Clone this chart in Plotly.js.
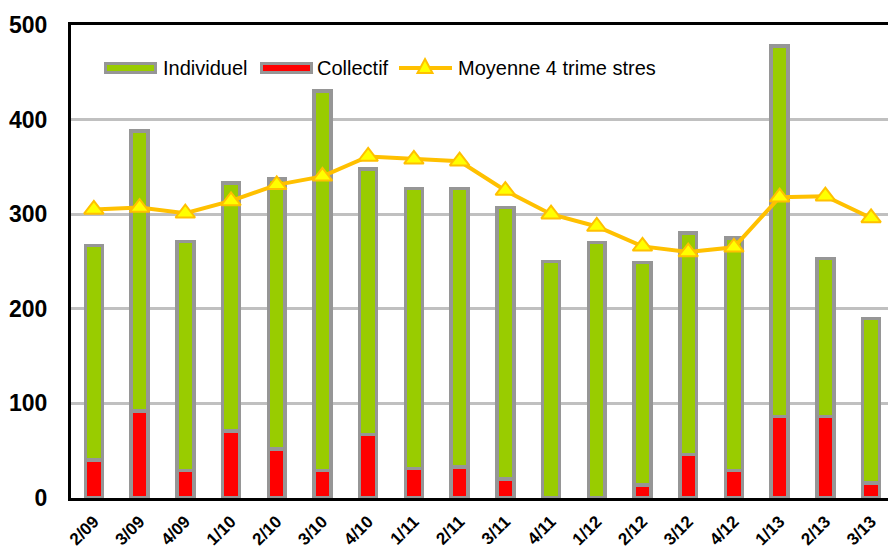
<!DOCTYPE html>
<html>
<head>
<meta charset="utf-8">
<script src="https://cdn.plot.ly/plotly-3.0.1.min.js"></script>
<style>
  html, body { margin: 0; padding: 0; background: #ffffff; }
  #chart { width: 888px; height: 554px; }
</style>
</head>
<body>
<div id="chart"></div>
<script>
// Quarters (trimestre/année)
const categories = ["2/09","3/09","4/09","1/10","2/10","3/10","4/10","1/11","2/11","3/11","4/11","1/12","2/12","3/12","4/12","1/13","2/13","3/13"];
// Collective housing (bottom of stack)
const collectif = [40, 92, 29, 71, 52, 29, 67, 31, 33, 20, 0, 0, 14, 46, 29, 86, 86, 16];
// Individual housing (top of stack)
const individuel = [227, 296, 242, 262, 285, 401, 281, 296, 294, 287, 250, 270, 235, 234, 246, 392, 167, 174];
// Four-quarter moving average
const moyenne = [305, 307, 301, 314, 331, 340, 361, 358, 356, 325, 300, 287, 266, 260, 265, 318, 319, 296];
const yTicks = [0, 100, 200, 300, 400, 500];
const legendLabels = ["Individuel", "Collectif", "Moyenne 4 trime stres"];

const FONT = '"Liberation Sans", Arial, sans-serif';
const GREEN = '#99CC00', RED = '#FF0000', GOLD = '#FFC000', YELLOW = '#FFFF00', GREY = '#969696';
const barOutline = { color: GREY, width: 3.5 };

const traces = [
  {
    type: 'bar', name: legendLabels[1], x: categories, y: collectif,
    width: 0.37, showlegend: false,
    marker: { color: RED, line: barOutline }
  },
  {
    type: 'bar', name: legendLabels[0], x: categories, y: individuel,
    width: 0.37, showlegend: false,
    marker: { color: GREEN, line: barOutline }
  },
  {
    type: 'scatter', mode: 'lines+markers', name: legendLabels[2],
    x: categories, y: moyenne, showlegend: false,
    line: { color: GOLD, width: 4 },
    marker: { symbol: 'triangle-up', size: 17, color: YELLOW, line: { color: GOLD, width: 2 } }
  }
];

// Legend drawn in paper space (pixel helpers for the plot area: l=71, w=817, t=25, h=473)
const PX = px => (px - 71) / 817;
const PY = py => (498 - py) / 473;
const legendShapes = [
  { type: 'rect', xref: 'paper', yref: 'paper', x0: PX(105.5), x1: PX(155.5), y0: PY(72.5), y1: PY(63.5),
    fillcolor: GREEN, line: { color: GREY, width: 3 } },
  { type: 'rect', xref: 'paper', yref: 'paper', x0: PX(261.5), x1: PX(311.5), y0: PY(72.5), y1: PY(63.5),
    fillcolor: RED, line: { color: GREY, width: 3 } },
  { type: 'line', xref: 'paper', yref: 'paper', x0: PX(399), x1: PX(452), y0: PY(68), y1: PY(68),
    line: { color: GOLD, width: 4 } },
  { type: 'path', xref: 'paper', yref: 'paper',
    path: 'M' + PX(425) + ',' + PY(59) + ' L' + PX(432.5) + ',' + PY(73) + ' L' + PX(417.5) + ',' + PY(73) + ' Z',
    fillcolor: YELLOW, line: { color: GOLD, width: 2 } }
];
const legendText = [
  { x: PX(161), text: legendLabels[0] },
  { x: PX(315), text: legendLabels[1] },
  { x: PX(456), text: legendLabels[2] }
].map(a => ({
  xref: 'paper', yref: 'paper', x: a.x, y: PY(68), xanchor: 'left', yanchor: 'middle',
  text: a.text, showarrow: false, font: { family: FONT, size: 20, color: '#000000' }
}));

const layout = {
  width: 888, height: 554,
  margin: { l: 71, r: 0, t: 25, b: 56, pad: 0 },
  paper_bgcolor: '#ffffff', plot_bgcolor: '#ffffff',
  font: { family: FONT, color: '#000000' },
  barmode: 'stack',
  showlegend: false,
  shapes: legendShapes,
  annotations: legendText,
  xaxis: {
    type: 'category',
    range: [-0.5, 17.37],
    tickangle: -45,
    tickfont: { family: FONT, size: 17, color: '#000000', weight: 'bold' },
    showline: true, linecolor: '#000000', linewidth: 3, mirror: true,
    showgrid: false, ticks: '', zeroline: false, ticklabelstandoff: 4,
    automargin: false
  },
  yaxis: {
    range: [0, 500],
    tickvals: yTicks,
    ticktext: yTicks.map(String),
    tickfont: { family: FONT, size: 23, color: '#000000', weight: 'bold' },
    showline: true, linecolor: '#000000', linewidth: 3, mirror: false,
    showgrid: true, gridcolor: '#C0C0C0', gridwidth: 3,
    zeroline: false, ticks: '', ticklabelstandoff: 16,
    automargin: false
  }
};

Plotly.newPlot('chart', traces, layout, { staticPlot: true, displayModeBar: false });
</script>
</body>
</html>
